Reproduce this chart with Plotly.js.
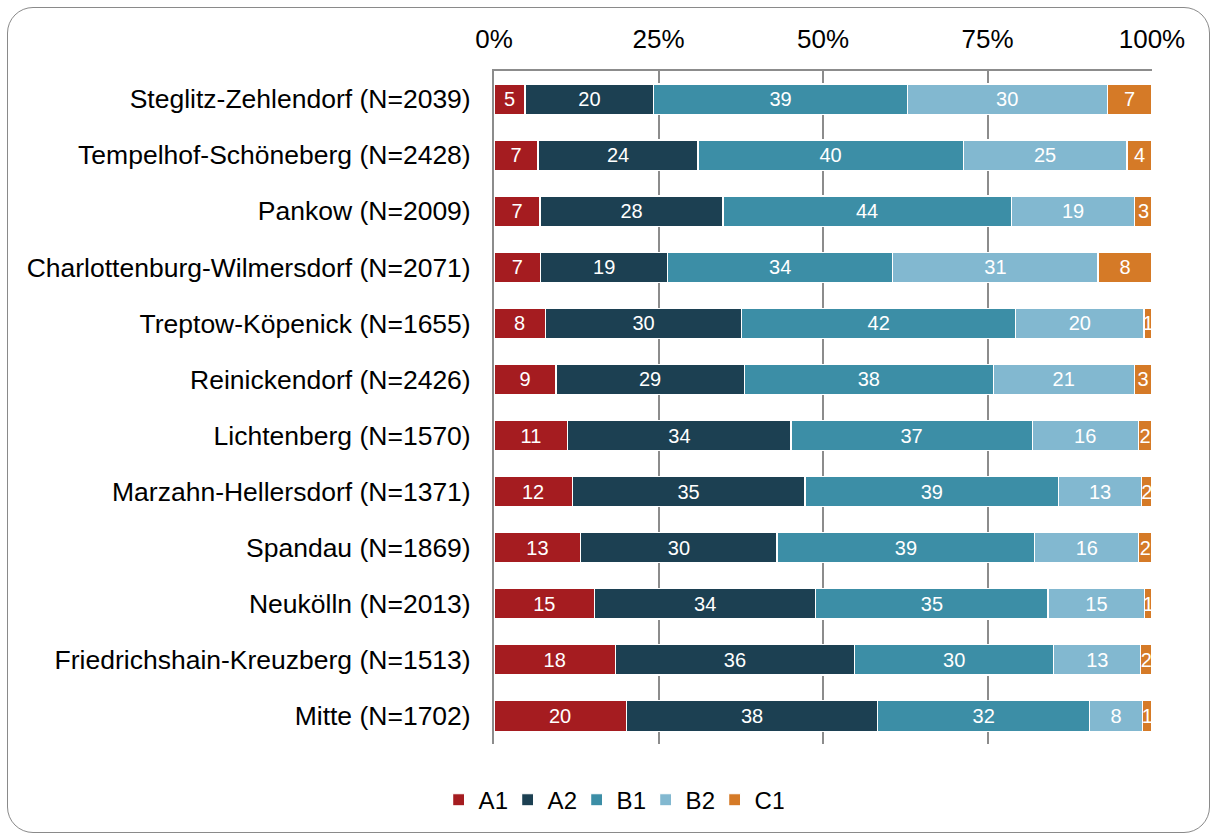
<!DOCTYPE html>
<html>
<head>
<meta charset="utf-8">
<script src="https://cdn.plot.ly/plotly-3.0.1.min.js"></script>
<style>
  html, body { margin: 0; padding: 0; background: #fff; }
  #wrap { position: relative; width: 1212px; height: 835px; overflow: hidden; }
  #chart { position: absolute; left: 0; top: 0; width: 1212px; height: 835px; }
  #frame { position: absolute; left: 7px; top: 7px; width: 1203px; height: 826px;
           border: 1.5px solid #8a8a8a; border-radius: 26px; pointer-events: none; box-sizing: border-box; }
</style>
</head>
<body>
<div id="wrap">
  <div id="chart"></div>
  <div id="frame"></div>
</div>
<script>
const districts = [
  "Steglitz-Zehlendorf (N=2039)",
  "Tempelhof-Schöneberg (N=2428)",
  "Pankow (N=2009)",
  "Charlottenburg-Wilmersdorf (N=2071)",
  "Treptow-Köpenick (N=1655)",
  "Reinickendorf (N=2426)",
  "Lichtenberg (N=1570)",
  "Marzahn-Hellersdorf (N=1371)",
  "Spandau (N=1869)",
  "Neukölln (N=2013)",
  "Friedrichshain-Kreuzberg (N=1513)",
  "Mitte (N=1702)"
];
const levels = ["A1", "A2", "B1", "B2", "C1"];
const A1 = [4.7, 6.7, 7.0, 7.1, 7.8, 9.4, 11.2, 11.9, 13.2, 15.3, 18.4, 20.1];
const A2 = [19.6, 24.3, 27.8, 19.3, 29.8, 28.6, 33.9, 35.4, 29.8, 33.6, 36.3, 38.3];
const B1 = [38.5, 40.3, 43.8, 34.2, 41.6, 37.8, 36.6, 38.6, 39.2, 35.3, 30.2, 32.2];
const B2 = [30.4, 24.9, 18.8, 31.2, 19.5, 21.4, 16.1, 12.6, 15.8, 14.7, 13.2, 8.1];
const C1 = [6.8, 3.8, 2.6, 8.2, 1.2, 2.7, 2.1, 1.6, 2.0, 1.1, 1.7, 1.4];
const series = [A1, A2, B1, B2, C1];
const colors = ["#A51C20", "#1C4052", "#3C8EA6", "#82B8D0", "#D57A27"];

const traces = levels.map((lv, i) => ({
  type: "bar",
  orientation: "h",
  name: lv,
  y: districts,
  x: series[i],
  marker: { color: colors[i], line: { color: "#ffffff", width: 1.2 } },
  text: series[i].map(v => String(Math.round(v))),
  texttemplate: "%{text}",
  textposition: "inside",
  insidetextanchor: "middle",
  textangle: 0,
  constraintext: "none",
  cliponaxis: false,
  textfont: { family: "Liberation Sans, Arial, sans-serif", size: 20, color: "#ffffff" },
  hoverinfo: "x+name"
}));

const layout = {
  width: 1212,
  height: 835,
  margin: { l: 494, r: 60, t: 71, b: 91 },
  paper_bgcolor: "rgba(0,0,0,0)",
  plot_bgcolor: "#ffffff",
  barmode: "stack",
  barnorm: "percent",
  bargap: 0.46,
  font: { family: "Liberation Sans, Arial, sans-serif", size: 26, color: "#000000" },
  xaxis: {
    side: "top",
    range: [0, 100.001],
    tickvals: [0, 25, 50, 75, 100],
    ticktext: ["0%", "25%", "50%", "75%", "100%"],
    showgrid: true,
    gridcolor: "#8c8c8c",
    gridwidth: 2,
    zeroline: false,
    showline: true,
    linecolor: "#8c8c8c",
    linewidth: 2,
    ticks: "",
    ticklabelstandoff: 11,
    tickfont: { size: 26, color: "#000000" },
    fixedrange: true
  },
  yaxis: {
    autorange: "reversed",
    type: "category",
    showgrid: false,
    zeroline: false,
    showline: true,
    linecolor: "#8c8c8c",
    linewidth: 2,
    ticks: "",
    ticklabelstandoff: 16,
    tickfont: { size: 26.5, color: "#000000" },
    fixedrange: true
  },
  showlegend: true,
  legend: {
    orientation: "h",
    x: 0.178,
    xanchor: "center",
    y: -0.05,
    yanchor: "top",
    font: { size: 24, color: "#000000" },
    traceorder: "normal",
    itemwidth: 30,
    entrywidth: 24,
    entrywidthmode: "pixels",
    bgcolor: "rgba(0,0,0,0)"
  }
};

Plotly.newPlot("chart", traces, layout, { displayModeBar: false, staticPlot: true });
</script>
</body>
</html>
